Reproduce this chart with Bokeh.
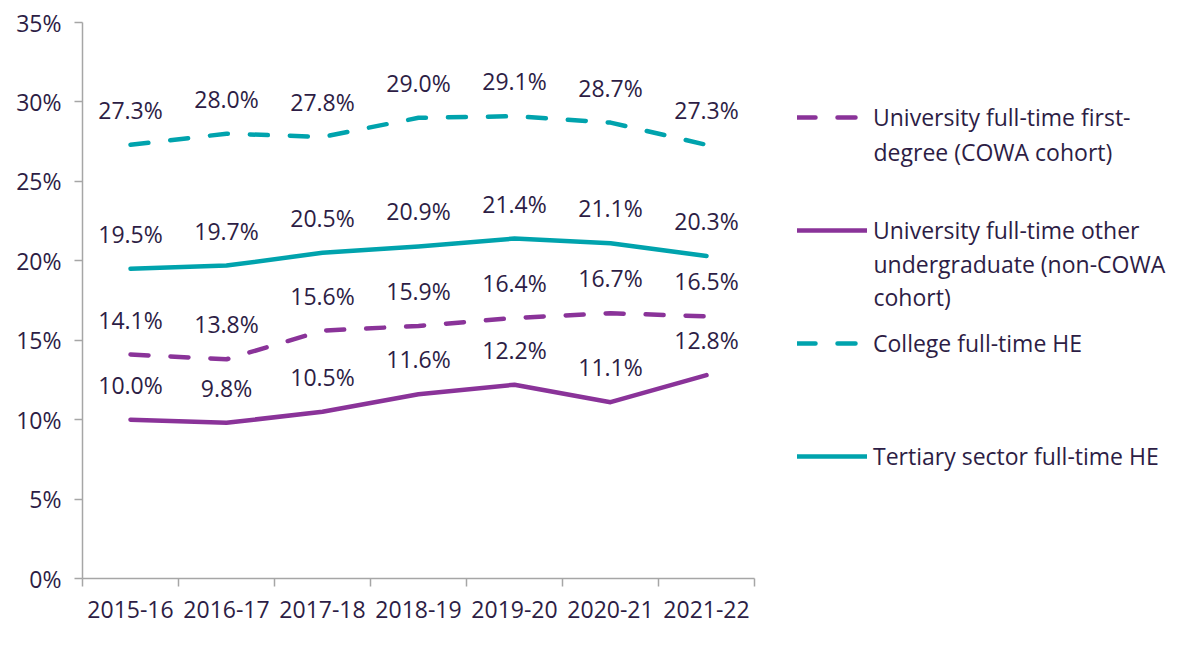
from bokeh.plotting import figure
from bokeh.models import (ColumnDataSource, FixedTicker, Legend, LegendItem, Label,
                          Range1d, CustomJSTickFormatter)
from bokeh.core.properties import value
from bokeh.embed import file_html
from bokeh.resources import INLINE

years = ["2015-16", "2016-17", "2017-18", "2018-19", "2019-20", "2020-21", "2021-22"]
uni_first_degree = [14.1, 13.8, 15.6, 15.9, 16.4, 16.7, 16.5]
uni_other_ug = [10.0, 9.8, 10.5, 11.6, 12.2, 11.1, 12.8]
college_he = [27.3, 28.0, 27.8, 29.0, 29.1, 28.7, 27.3]
tertiary_he = [19.5, 19.7, 20.5, 20.9, 21.4, 21.1, 20.3]
y_ticks = [0, 5, 10, 15, 20, 25, 30, 35]

PURPLE = "#8A3399"
TEAL = "#00A3AD"
TEXT = "#2D1D45"
AXIS = "#A6A6A6"
FONT = "Open Sans"
FS = "23px"

n = len(years)
xpos = [i + 0.5 for i in range(n)]

# frame spans to the right edge so the legend is not clipped; the axis is bounded
LEFT, AXIS_END, BOTTOM = 82, 754, 578
frame_w = 1192 - LEFT
x_end = n * frame_w / (AXIS_END - LEFT)

p = figure(width=1192, height=646, output_backend="svg", toolbar_location=None,
           x_range=Range1d(0, x_end), y_range=Range1d(0, 35),
           min_border_left=LEFT, min_border_right=0, min_border_top=22,
           min_border_bottom=646 - BOTTOM)
p.outline_line_color = None
p.grid.grid_line_color = None
p.background_fill_color = "white"
p.border_fill_color = "white"

p.xaxis.bounds = (0, n)
p.xaxis.ticker = FixedTicker(ticks=xpos, minor_ticks=list(range(n + 1)))
p.xaxis.major_label_overrides = {x: y for x, y in zip(xpos, years)}
p.xaxis.major_tick_line_color = None
p.xaxis.major_tick_out = 0
p.xaxis.major_tick_in = 0
p.xaxis.minor_tick_out = 8
p.xaxis.minor_tick_in = 0
p.xaxis.minor_tick_line_color = AXIS
p.xaxis.minor_tick_line_width = 1.5
p.xaxis.major_label_standoff = 14

p.yaxis.ticker = FixedTicker(ticks=y_ticks, minor_ticks=[])
p.yaxis.formatter = CustomJSTickFormatter(code="return tick.toFixed(0) + '%';")
p.yaxis.major_tick_out = 8
p.yaxis.major_tick_in = 0
p.yaxis.major_tick_line_color = AXIS
p.yaxis.major_tick_line_width = 1.5
p.yaxis.major_label_standoff = 13

for ax in (p.xaxis, p.yaxis):
    ax.axis_line_color = AXIS
    ax.axis_line_width = 1.5
    ax.major_label_text_font = FONT
    ax.major_label_text_font_size = FS
    ax.major_label_text_color = TEXT

series = [
    ("University full-time first-", uni_first_degree, PURPLE, "18 22"),
    ("University full-time other", uni_other_ug, PURPLE, "solid"),
    ("College full-time HE", college_he, TEAL, "18 22"),
    ("Tertiary sector full-time HE", tertiary_he, TEAL, "solid"),
]

items = []
for name, vals, color, dash in series:
    src = ColumnDataSource(dict(x=xpos, y=vals, lab=[f"{v:.1f}%" for v in vals]))
    r = p.line("x", "y", source=src, line_color=color, line_width=4.5,
               line_dash=dash, line_cap="round", line_join="round")
    p.text("x", "y", text="lab", source=src, text_align="center", text_baseline="middle",
           y_offset=-35, text_font=value(FONT), text_font_size=FS, text_color=TEXT)
    items.append(LegendItem(label=name, renderers=[r]))

legend = Legend(items=items, location=(715, 106), orientation="vertical",
                glyph_width=70, glyph_height=20, label_height=20, spacing=81,
                label_standoff=6, padding=0, margin=0,
                border_line_color=None, background_fill_alpha=0,
                label_text_font=FONT, label_text_font_size=FS, label_text_color=TEXT)
p.add_layout(legend, "center")

extra_lines = [("degree (COWA cohort)", 0, 1), ("undergraduate (non-COWA", 1, 1), ("cohort)", 1, 2)]
for text, idx, k in extra_lines:
    p.add_layout(Label(x=791, y=BOTTOM - (118 + 112.5 * idx + 33 * k),
                       x_units="screen", y_units="screen", text=text,
                       text_baseline="middle", text_font=FONT, text_font_size=FS,
                       text_color=TEXT))

open("out.html", "w").write(file_html(p, INLINE))
